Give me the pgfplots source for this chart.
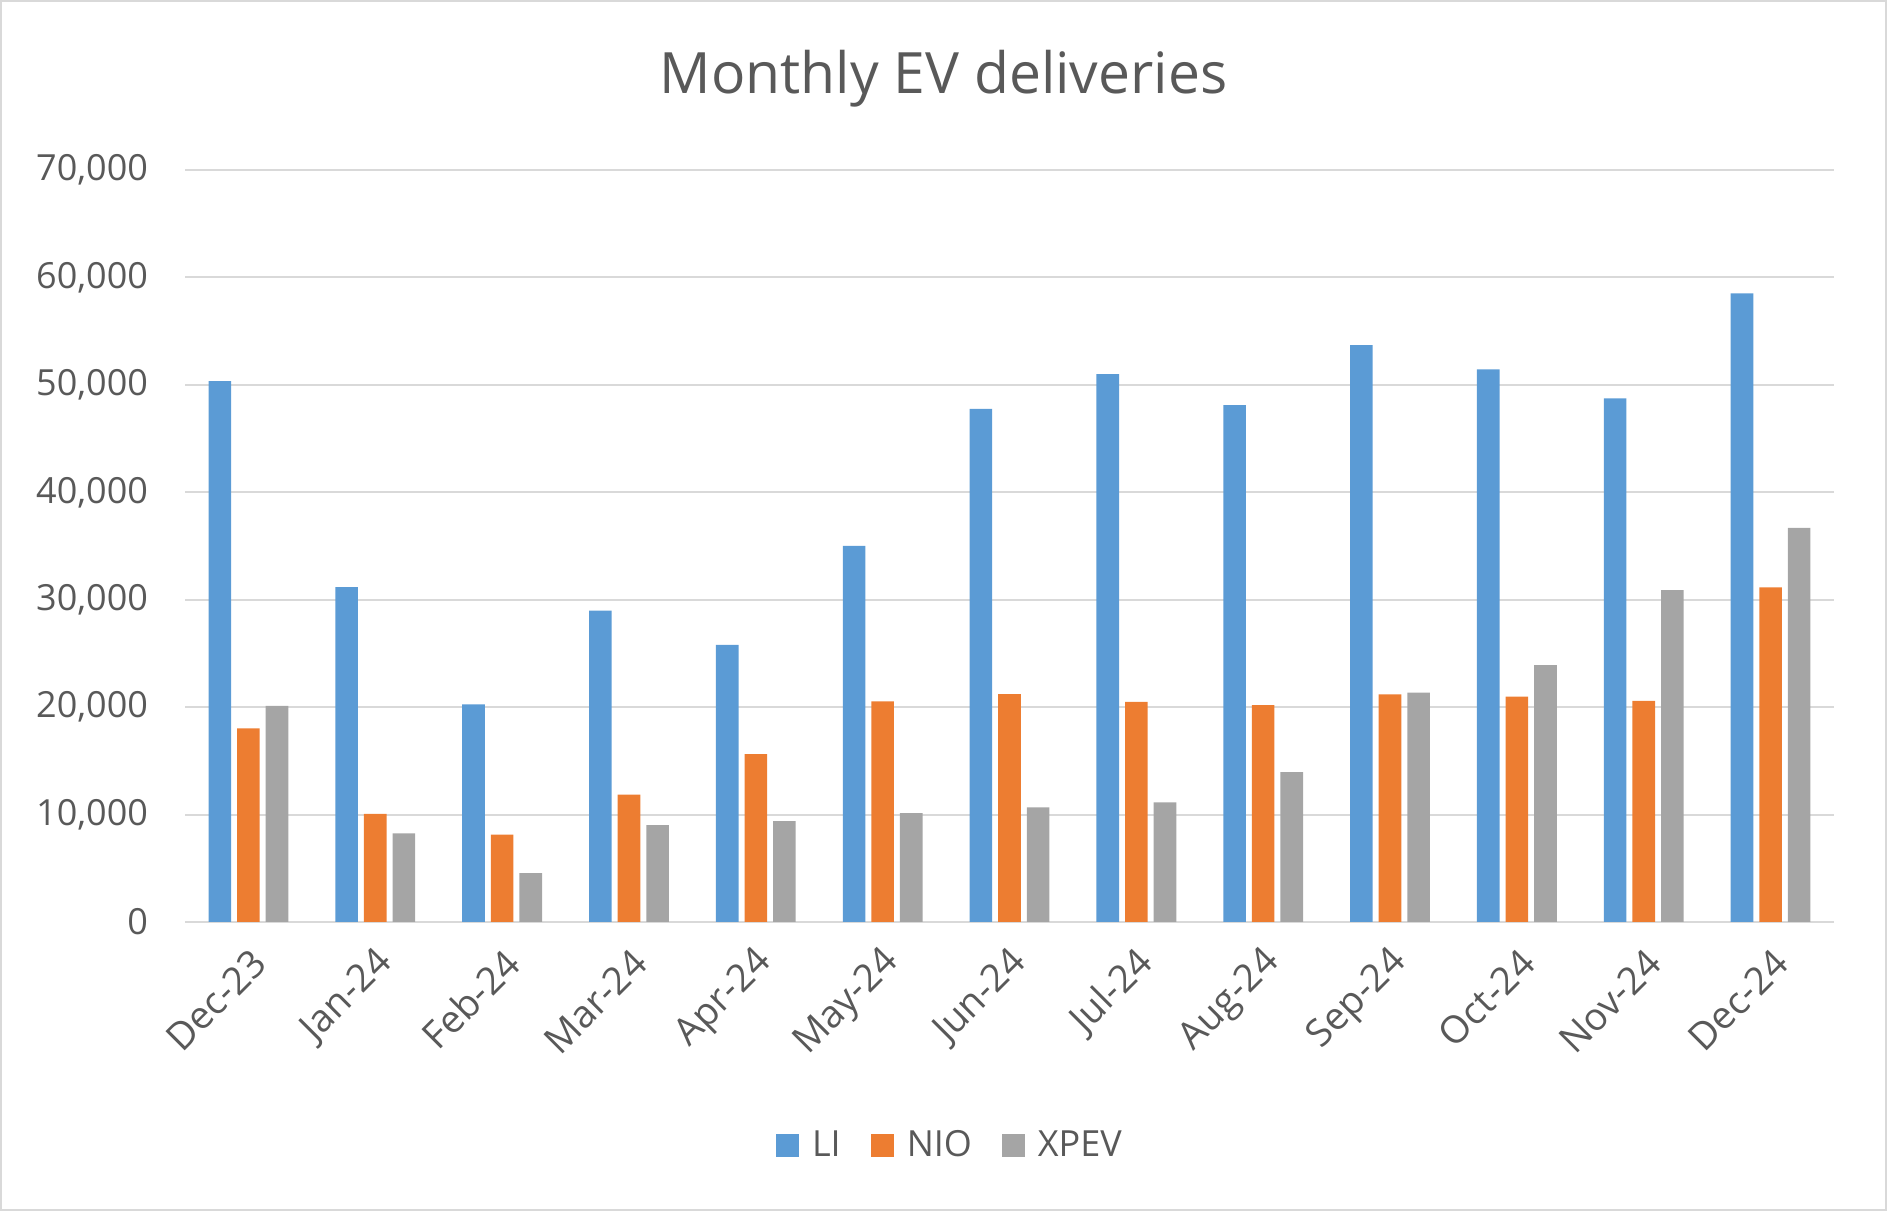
\documentclass[border=0pt]{standalone}
\usepackage{pgfplots}
\pgfplotsset{compat=1.18}
\usepackage{fontspec}
\setmainfont{Open Sans}
\definecolor{liblue}{HTML}{5B9BD5}
\definecolor{nioorange}{HTML}{ED7D31}
\definecolor{xpevgray}{HTML}{A5A5A5}
\definecolor{gridgray}{HTML}{D9D9D9}
\definecolor{txt}{HTML}{595959}
\begin{document}
\begin{tikzpicture}
\useasboundingbox (0,0) rectangle (943.5pt,605.5pt);
\draw[gridgray, line width=1.2pt] (0.6pt,0.6pt) rectangle (942.9pt,604.9pt);
\node[txt, font=\fontsize{28.5}{34}\selectfont] at (471.75pt,566pt) {Monthly EV deliveries};
\begin{axis}[
    at={(92.5pt,144.5pt)}, anchor=south west,
    scale only axis,
    width=824.5pt, height=376pt,
    ybar=3pt, bar width=11.3pt,
    xmin=-0.5, xmax=12.5,
    ymin=0, ymax=70000,
    xtick=data,
    xticklabels={Dec-23,Jan-24,Feb-24,Mar-24,Apr-24,May-24,Jun-24,Jul-24,Aug-24,Sep-24,Oct-24,Nov-24,Dec-24},
    ytick={0,10000,...,70000},
    scaled y ticks=false,
    /pgf/number format/.cd, 1000 sep={,}, assume math mode=true, /pgfplots/.cd,
    ymajorgrids=true,
    grid style={gridgray, line width=1pt},
    axis line style={draw=none},
    major tick length=0pt,
    tick label style={txt, font=\fontsize{18}{22}\selectfont},
    yticklabel style={xshift=-15pt},
    xticklabel style={font=\fontsize{19}{23}\selectfont, xshift=8pt, yshift=-15pt, rotate=45, anchor=east},
    legend style={at={(0.4645,-0.297)}, anchor=center, draw=none,
        legend columns=-1, font=\fontsize{18}{22}\selectfont, text=txt,
        /tikz/every even column/.append style={column sep=13pt}},
    legend image code/.code={\fill[#1] (0pt,-5.75pt) rectangle (11.5pt,5.75pt); \path (16pt,0pt);},
]
\addplot[fill=liblue, draw=none] coordinates {(0,50353) (1,31165) (2,20251) (3,28984) (4,25787) (5,35020) (6,47774) (7,51000) (8,48122) (9,53709) (10,51443) (11,48740) (12,58513)};
\addlegendentry{LI}
\addplot[fill=nioorange, draw=none] coordinates {(0,18012) (1,10055) (2,8132) (3,11866) (4,15620) (5,20544) (6,21209) (7,20498) (8,20176) (9,21181) (10,20976) (11,20575) (12,31138)};
\addlegendentry{NIO}
\addplot[fill=xpevgray, draw=none] coordinates {(0,20115) (1,8250) (2,4545) (3,9026) (4,9393) (5,10146) (6,10668) (7,11145) (8,13957) (9,21352) (10,23917) (11,30895) (12,36695)};
\addlegendentry{XPEV}
\end{axis}
\end{tikzpicture}
\end{document}
